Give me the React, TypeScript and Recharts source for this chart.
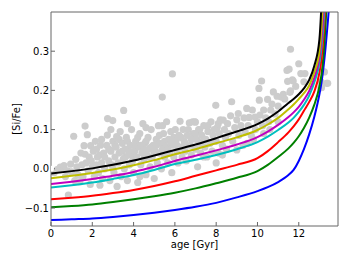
import React from 'react'
import { ComposedChart, Line, Scatter, XAxis, YAxis } from 'recharts'

// model tracks, sampled at these ages [Gyr]
const ages = [0, 1, 2, 3, 4, 5, 6, 7, 8, 9, 10, 10.5, 11, 11.5, 11.75, 12, 12.25, 12.5, 12.75, 13, 13.1, 13.2, 13.3, 13.4, 13.5, 13.6]

const black = [-0.012, -0.006, 0.001, 0.01, 0.021, 0.034, 0.048, 0.062, 0.078, 0.095, 0.114, 0.128, 0.146, 0.168, 0.178, 0.19, 0.205, 0.226, 0.262, 0.33, 0.42, 0.55, 0.75, 1.0, 1.3, 1.6]
const yellow = [-0.024, -0.018, -0.011, -0.002, 0.009, 0.022, 0.037, 0.05, 0.065, 0.08, 0.099, 0.113, 0.13, 0.152, 0.164, 0.178, 0.193, 0.212, 0.246, 0.3, 0.36, 0.46, 0.6, 0.85, 1.1, 1.4]
const magenta = [-0.039, -0.033, -0.026, -0.018, -0.008, 0.005, 0.02, 0.033, 0.047, 0.062, 0.081, 0.095, 0.112, 0.132, 0.144, 0.158, 0.176, 0.198, 0.232, 0.285, 0.33, 0.4, 0.52, 0.7, 0.95, 1.2]
const cyan = [-0.048, -0.042, -0.035, -0.026, -0.016, -0.003, 0.012, 0.023, 0.035, 0.05, 0.068, 0.082, 0.099, 0.118, 0.13, 0.145, 0.163, 0.186, 0.22, 0.27, 0.31, 0.37, 0.47, 0.62, 0.85, 1.1]
const red = [-0.078, -0.074, -0.069, -0.062, -0.054, -0.044, -0.032, -0.018, -0.004, 0.01, 0.027, 0.045, 0.068, 0.093, 0.108, 0.126, 0.148, 0.17, 0.197, 0.245, 0.28, 0.34, 0.43, 0.56, 0.75, 1.0]
const green = [-0.098, -0.095, -0.091, -0.085, -0.078, -0.07, -0.061, -0.05, -0.037, -0.023, -0.006, 0.01, 0.03, 0.052, 0.066, 0.083, 0.104, 0.13, 0.163, 0.21, 0.24, 0.29, 0.37, 0.48, 0.65, 0.9]
const blue = [-0.131, -0.129, -0.127, -0.123, -0.118, -0.112, -0.105, -0.097, -0.087, -0.073, -0.057, -0.047, -0.034, -0.016, -0.003, 0.02, 0.05, 0.087, 0.132, 0.19, 0.22, 0.26, 0.31, 0.37, 0.44, 0.55]

// observed stars: [age, [Si/Fe]]
const stars: [number, number][] = [
  [0.15, -0.01], [0.3, -0.002], [0.45, 0.004], [0.55, 0.0], [0.63, 0.008], [0.7, -0.02], [0.8, -0.005], [0.84, -0.067],
  [0.95, 0.012], [1.0, -0.008], [1.1, 0.083], [1.15, -0.03], [1.2, 0.024], [1.25, 0.005], [1.3, -0.015], [1.4, -0.033],
  [1.45, 0.04], [1.5, 0.01], [1.55, -0.02], [1.6, 0.059], [1.65, 0.109], [1.65, 0.037], [1.7, 0.015], [1.76, 0.087],
  [1.8, -0.005], [1.85, 0.03], [1.9, -0.04], [1.92, 0.059], [1.95, 0.02], [2.0, 0.005], [2.05, 0.045], [2.1, -0.02],
  [2.15, 0.07], [2.2, 0.01], [2.2, 0.05], [2.25, 0.03], [2.3, -0.01], [2.35, 0.035], [2.37, -0.042], [2.4, 0.06],
  [2.45, 0.015], [2.45, 0.075], [2.5, -0.025], [2.55, 0.04], [2.6, 0.0], [2.6, 0.03], [2.7, 0.06], [2.73, 0.086],
  [2.74, 0.128], [2.8, 0.02], [2.8, 0.05], [2.85, -0.03], [2.9, 0.045], [2.9, 0.1], [2.95, 0.01], [2.99, 0.123],
  [3.0, 0.07], [3.0, 0.0], [3.05, -0.01], [3.1, 0.03], [3.1, 0.06], [3.15, 0.055], [3.18, 0.082], [3.2, -0.045],
  [3.25, 0.015], [3.3, 0.04], [3.3, 0.075], [3.35, 0.095], [3.4, -0.02], [3.45, 0.065], [3.45, 0.045], [3.5, 0.025],
  [3.52, 0.149], [3.55, 0.0], [3.6, 0.05], [3.6, 0.03], [3.65, 0.08], [3.7, -0.03], [3.7, 0.07], [3.7, 0.115],
  [3.75, 0.035], [3.8, 0.01], [3.8, 0.045], [3.85, 0.06], [3.9, 0.1], [3.95, 0.02], [4.0, -0.01], [4.0, 0.03],
  [4.05, 0.045], [4.1, 0.07], [4.1, 0.055], [4.15, 0.03], [4.2, -0.035], [4.2, 0.08], [4.25, 0.055], [4.3, 0.09],
  [4.31, -0.02], [4.35, 0.01], [4.35, 0.06], [4.4, 0.04], [4.45, 0.115], [4.5, 0.025], [4.5, 0.05], [4.55, 0.065],
  [4.6, -0.015], [4.6, 0.07], [4.6, 0.105], [4.65, 0.035], [4.7, 0.08], [4.75, 0.05], [4.75, 0.03], [4.8, 0.005],
  [4.85, 0.1], [4.85, 0.055], [4.9, 0.03], [4.95, 0.06], [5.0, -0.025], [5.0, 0.04], [5.05, 0.045], [5.1, 0.075],
  [5.1, 0.06], [5.15, 0.015], [5.2, 0.11], [5.25, 0.04], [5.25, 0.085], [5.3, 0.065], [5.35, 0.0], [5.39, 0.183],
  [5.4, 0.05], [5.4, 0.11], [5.45, 0.09], [5.5, 0.03], [5.5, 0.07], [5.55, 0.055], [5.6, 0.12], [5.65, 0.015],
  [5.65, 0.05], [5.7, 0.075], [5.75, 0.04], [5.8, 0.095], [5.8, 0.065], [5.85, -0.01], [5.88, 0.242], [5.9, 0.06],
  [5.95, 0.03], [5.95, 0.08], [6.02, 0.1], [6.05, 0.07], [6.1, 0.045], [6.1, 0.06], [6.15, 0.015], [6.2, 0.085],
  [6.25, 0.121], [6.3, 0.055], [6.3, 0.08], [6.35, 0.03], [6.4, 0.1], [6.45, 0.07], [6.5, 0.045], [6.5, 0.065],
  [6.55, 0.02], [6.6, 0.085], [6.65, 0.1], [6.7, 0.117], [6.75, 0.06], [6.8, 0.035], [6.8, 0.075], [6.86, 0.12],
  [6.9, 0.09], [6.97, 0.12], [6.99, 0.119], [7.0, 0.05], [7.0, 0.09], [7.05, 0.075], [7.1, 0.005], [7.15, 0.1],
  [7.2, 0.065], [7.2, 0.1], [7.25, 0.04], [7.3, 0.085], [7.35, 0.07], [7.4, 0.11], [7.4, 0.03], [7.45, 0.055],
  [7.5, 0.075], [7.55, 0.03], [7.6, 0.095], [7.6, 0.11], [7.7, 0.065], [7.75, 0.12], [7.8, 0.045], [7.85, 0.085],
  [7.9, 0.1], [7.98, 0.162], [8.0, 0.07], [8.0, 0.015], [8.05, 0.105], [8.1, 0.04], [8.1, 0.115], [8.15, 0.09],
  [8.2, 0.125], [8.3, 0.06], [8.3, 0.035], [8.34, 0.124], [8.4, 0.1], [8.45, 0.08], [8.5, 0.05], [8.55, 0.115],
  [8.6, 0.09], [8.7, 0.135], [8.75, 0.171], [8.8, 0.07], [8.9, 0.105], [9.0, 0.125], [9.0, 0.048], [9.07, 0.141],
  [9.1, 0.085], [9.2, 0.11], [9.3, 0.06], [9.35, 0.13], [9.4, 0.095], [9.48, 0.154], [9.5, 0.065], [9.55, 0.11],
  [9.6, 0.131], [9.7, 0.085], [9.75, 0.15], [9.8, 0.075], [9.88, 0.132], [9.9, 0.1], [10.0, 0.12], [10.07, 0.205],
  [10.09, 0.175], [10.12, 0.137], [10.2, 0.224], [10.25, 0.11], [10.3, 0.15], [10.3, 0.09], [10.4, 0.13], [10.49, 0.177],
  [10.55, 0.12], [10.6, 0.1], [10.64, 0.15], [10.7, 0.165], [10.77, 0.196], [10.85, 0.14], [10.95, 0.185], [11.0, 0.16],
  [11.0, 0.12], [11.15, 0.183], [11.25, 0.19], [11.32, 0.178], [11.43, 0.251], [11.46, 0.223], [11.53, 0.254], [11.57, 0.195],
  [11.6, 0.305], [11.6, 0.199], [11.69, 0.227], [11.73, 0.224], [11.85, 0.21], [12.0, 0.268], [12.1, 0.243], [12.25, 0.222],
  [12.3, 0.243], [13.07, 0.222], [13.07, 0.207], [13.1, 0.207], [13.24, 0.247], [13.35, 0.218], [13.4, 0.218],
]

const xTicks = [0, 2, 4, 6, 8, 10, 12]
const yTicks = [-0.1, 0, 0.1, 0.2, 0.3]
const xDomain: [number, number] = [0, 13.9]
const yDomain: [number, number] = [-0.146, 0.4]

const tracks = [
  { name: 'blue', values: blue, color: '#0000ff' },
  { name: 'green', values: green, color: '#008000' },
  { name: 'red', values: red, color: '#ff0000' },
  { name: 'cyan', values: cyan, color: '#00bfbf' },
  { name: 'magenta', values: magenta, color: '#bf00bf' },
  { name: 'yellow', values: yellow, color: '#bfbf00' },
  { name: 'black', values: black, color: '#000000' },
]

const font = 'DejaVu Sans, sans-serif'
const frame = '#666'
const tickStyle = { fill: '#000', fontSize: 10, fontFamily: font }
const W = 349
const H = 262

const fmt = (v: number) => {
  const s = Math.abs(v).toFixed(1)
  return v < -1e-9 ? '\u2212' + s : s
}

const Dot = (props: any) => <circle cx={props.cx} cy={props.cy} r={3.6} fill="#cccccc" />

export default function App() {
  const starData = stars.map(([age, v]) => ({ age, v }))
  const frameData = [{ age: 0, v: 0 }]

  return (
    <div style={{ position: 'fixed', left: 0, top: 0, width: W, height: H, background: '#fff' }}>
      {/* stars underneath */}
      <div style={{ position: 'absolute', left: 0, top: 0 }}>
        <ComposedChart width={W} height={H} margin={{ top: 12, right: 11, bottom: 36, left: 51 }}>
          <XAxis type="number" dataKey="age" domain={xDomain} allowDataOverflow hide />
          <YAxis type="number" dataKey="v" domain={yDomain} allowDataOverflow hide />
          <Scatter data={starData} dataKey="v" shape={Dot} isAnimationActive={false} />
        </ComposedChart>
      </div>

      {/* model tracks and frame on top */}
      <div style={{ position: 'absolute', left: 0, top: 0 }}>
        <ComposedChart width={W} height={H} margin={{ top: 11, right: 10, bottom: 0, left: 0 }}>
          <XAxis
            xAxisId="b"
            type="number"
            dataKey="age"
            domain={xDomain}
            ticks={xTicks}
            allowDataOverflow
            height={36}
            stroke={frame}
            tickSize={-4}
            tickMargin={8}
            tick={tickStyle}
            label={{ value: 'age [Gyr]', position: 'insideBottom', offset: 14, style: { fontSize: 10, fontFamily: font, fill: '#000' } }}
          />
          <XAxis xAxisId="t" orientation="top" type="number" dataKey="age" domain={xDomain} ticks={xTicks} allowDataOverflow height={1} stroke={frame} tickSize={-4} tick={false} />
          <YAxis
            yAxisId="l"
            type="number"
            dataKey="v"
            domain={yDomain}
            ticks={yTicks}
            allowDataOverflow
            width={51}
            stroke={frame}
            tickSize={-4}
            tickMargin={6}
            tick={tickStyle}
            tickFormatter={fmt}
            label={{ value: '[Si/Fe]', angle: -90, position: 'insideLeft', offset: 16, style: { textAnchor: 'middle', fontSize: 10, fontFamily: font, fill: '#000' } }}
          />
          <YAxis yAxisId="r" orientation="right" type="number" dataKey="v" domain={yDomain} ticks={yTicks} allowDataOverflow width={1} stroke={frame} tickSize={-4} tick={false} />

          <Line xAxisId="t" yAxisId="r" data={frameData} dataKey="v" stroke="none" dot={false} isAnimationActive={false} />

          {tracks.map((t) => (
            <Line
              key={t.name}
              xAxisId="b"
              yAxisId="l"
              data={ages.map((age, i) => ({ age, v: t.values[i] }))}
              dataKey="v"
              type="monotone"
              stroke={t.color}
              strokeWidth={2}
              dot={false}
              isAnimationActive={false}
            />
          ))}
        </ComposedChart>
      </div>
    </div>
  )
}
